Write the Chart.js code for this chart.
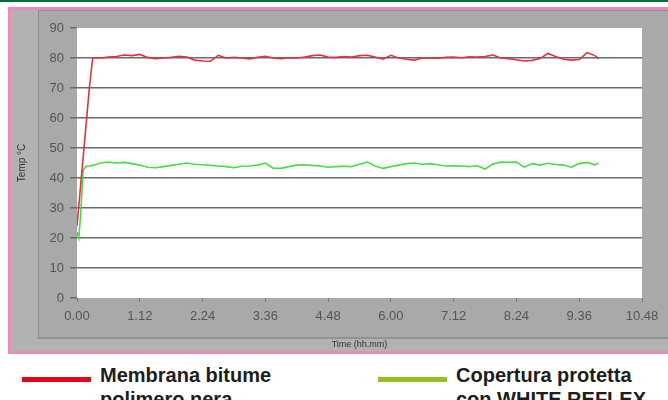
<!DOCTYPE html>
<html lang="it">
<head>
<meta charset="utf-8">
<title>Temperatura superficiale</title>
<script src="https://cdn.jsdelivr.net/npm/chart.js@4.4.1/dist/chart.umd.min.js"></script>
<style>
  html, body { margin: 0; padding: 0; background: #fff; width: 668px; height: 400px; overflow: hidden; }
  body { position: relative; font-family: "Liberation Sans", Arial, sans-serif; }
  #barraVerde { position: absolute; left: 0; top: 0; width: 668px; height: 2px; background: #0a6a38; }
  #cornice { position: absolute; left: 8px; top: 7px; width: 680px; height: 341px; background: #b2b2b2;
             border: 3px solid #ea8cb4; }
  #pannello { position: absolute; left: 27px; top: 0; width: 660px; height: 326px; background: #a9a9a9;
              border-left: 1px solid #8c8c8c; border-bottom: 2px solid #929292; border-top: 1px solid #909090; }
  #contenitoreGrafico { position: absolute; left: 0; top: 0; width: 668px; height: 354px; }
  .voce { position: absolute; top: 363px; font-weight: bold; font-size: 20px; line-height: 24px; color: #1d1d1b; }
  .linea { position: absolute; top: 377px; width: 69px; height: 5px; }
</style>
</head>
<body>
<div id="barraVerde"></div>
<div id="cornice"><div id="pannello"></div></div>
<div id="contenitoreGrafico"><canvas id="grafico" width="668" height="354"></canvas></div>

<div class="linea" style="left:22px; background:#e30613;"></div>
<div class="voce" style="left:100px;">Membrana bitume<br>polimero nera</div>
<div class="linea" style="left:378px; background:#95c11f;"></div>
<div class="voce" style="left:456px;">Copertura protetta<br>con WHITE REFLEX</div>

<script>
// tempo in minuti dall'inizio della prova
const tempiMinuti = [0, 2, 4, 7, 10, 14,
  18, 27, 36, 45, 54, 63, 72, 81, 90, 99, 108, 117, 126, 135, 144, 153, 162, 171, 180,
  189, 198, 207, 216, 225, 234, 243, 252, 261, 270, 279, 288, 297, 306, 315, 324, 333,
  342, 351, 360, 369, 378, 387, 396, 405, 414, 423, 432, 441, 450, 459, 468, 477, 486,
  495, 504, 513, 522, 531, 540, 549, 558, 567, 576, 585, 594, 598];

const membranaNera = [24, 30.5, 37, 46.7, 56.4, 69.4,
  80, 80, 80.3, 80.5, 81, 80.8, 81.2, 80.2, 79.8, 80,
  80.2, 80.6, 80.3, 79.3, 79, 78.9, 80.9, 80, 80.2, 80,
  79.7, 80.2, 80.6, 80, 79.8, 80.1, 80, 80.3, 80.8, 81,
  80.3, 80.2, 80.5, 80.3, 80.8, 80.9, 80.3, 79.6, 80.9, 80,
  79.6, 79.3, 80, 80, 79.9, 80.2, 80.3, 80.1, 80.4, 80.3,
  80.5, 81, 80, 79.8, 79.4, 79, 79.2, 79.8, 81.5, 80.5,
  79.6, 79.3, 79.5, 81.8, 80.8, 79.8];

const whiteReflex = [22, 20, 27, 42.5, 43.8, 44,
  44.2, 45, 45.3, 45, 45.2, 44.8, 44.3, 43.6, 43.4, 43.8,
  44.2, 44.6, 45, 44.6, 44.4, 44.2, 44, 43.8, 43.4, 43.9,
  44, 44.3, 45, 43.3, 43.2, 43.8, 44.3, 44.4, 44.2, 44,
  43.6, 43.8, 43.9, 43.8, 44.6, 45.3, 44, 43.2, 43.8, 44.3,
  44.8, 45, 44.6, 44.8, 44.4, 44, 44.1, 44, 43.8, 44.1,
  43, 44.7, 45.3, 45.2, 45.3, 43.6, 44.8, 44.3, 44.9, 44.5,
  44.3, 43.6, 44.8, 45.2, 44.4, 45];

const etichetteTempo = ['0.00', '1.12', '2.24', '3.36', '4.48', '6.00', '7.12', '8.24', '9.36', '10.48'];

function creaPunti(valori) {
  return tempiMinuti.map((t, i) => ({ x: t, y: valori[i] }));
}

// sfondo bianco dell'area del grafico
const sfondoArea = {
  id: 'sfondoArea',
  beforeDraw(chart) {
    const { ctx, chartArea } = chart;
    ctx.save();
    ctx.fillStyle = '#ffffff';
    ctx.fillRect(chartArea.left, chartArea.top, chartArea.right - chartArea.left, chartArea.bottom - chartArea.top);
    ctx.restore();
  }
};

const coloreGriglia = '#6b6b6b';

new Chart(document.getElementById('grafico').getContext('2d'), {
  type: 'line',
  data: {
    datasets: [{
      label: 'Membrana bitume polimero nera',
      data: creaPunti(membranaNera),
      borderColor: '#dc3442',
      borderWidth: 1.6,
      pointRadius: 0,
      tension: 0
    }, {
      label: 'Copertura protetta con WHITE REFLEX',
      data: creaPunti(whiteReflex),
      borderColor: '#48dc48',
      borderWidth: 1.6,
      pointRadius: 0,
      tension: 0
    }]
  },
  options: {
    responsive: false,
    animation: false,
    layout: { padding: { top: 28, right: 26, left: 0, bottom: 0 } },
    plugins: {
      legend: { display: false },
      tooltip: { enabled: false }
    },
    scales: {
      x: {
        type: 'linear',
        min: 0,
        max: 648,
        border: { display: false },
        grid: { drawOnChartArea: false, drawTicks: true, tickLength: 4, tickColor: '#7a7a7a' },
        ticks: {
          stepSize: 72,
          padding: 7,
          color: '#555',
          font: { family: '"Liberation Sans", Arial, sans-serif', size: 13 },
          callback: (value, index) => etichetteTempo[index]
        },
        title: {
          display: true,
          text: 'Time (hh.mm)',
          color: '#333',
          font: { family: '"Liberation Sans", Arial, sans-serif', size: 9 },
          padding: { top: 0, bottom: 4 }
        },
        afterFit: scale => { scale.height = 56; }
      },
      y: {
        min: 0,
        max: 90,
        border: { display: false },
        grid: {
          color: ctx => (ctx.tick && (ctx.tick.value === 0 || ctx.tick.value === 90)) ? 'rgba(0,0,0,0)' : coloreGriglia,
          lineWidth: 1.5,
          tickLength: 7,
          tickColor: coloreGriglia
        },
        ticks: {
          stepSize: 10,
          padding: 6,
          color: '#555',
          font: { family: '"Liberation Sans", Arial, sans-serif', size: 13 }
        },
        title: {
          display: true,
          text: 'Temp °C',
          color: '#333',
          font: { family: '"Liberation Sans", Arial, sans-serif', size: 10 },
          padding: { top: 16, bottom: 0 }
        },
        afterFit: scale => { scale.width = 77; }
      }
    }
  },
  plugins: [sfondoArea]
});
</script>
</body>
</html>
